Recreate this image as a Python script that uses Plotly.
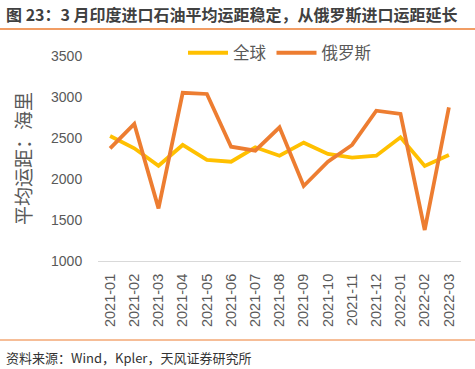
import plotly.graph_objects as go

months = ["2021-01", "2021-02", "2021-03", "2021-04", "2021-05", "2021-06", "2021-07",
          "2021-08", "2021-09", "2021-10", "2021-11", "2021-12", "2022-01", "2022-02", "2022-03"]
global_avg = [2524, 2374, 2162, 2415, 2232, 2211, 2387, 2284, 2443, 2305, 2260, 2284, 2508, 2159, 2293]
russia = [2374, 2671, 1642, 3052, 3037, 2394, 2345, 2630, 1915, 2211, 2415, 2833, 2793, 1378, 2874]

FONT = "Liberation Sans, Arial, Noto Sans CJK SC, sans-serif"
GRAY = "#595959"

fig = go.Figure()
fig.add_trace(go.Scatter(x=months, y=global_avg, mode="lines", name="全球",
                         line=dict(color="#FFC000", width=3.8)))
fig.add_trace(go.Scatter(x=months, y=russia, mode="lines", name="俄罗斯",
                         line=dict(color="#ED7D31", width=3.8)))

L, R, T, B = 98, 14, 56, 108
W, H = 475, 369
pw, ph = W - L - R, H - T - B

def px(x):
    return (x - L) / pw

def py(y):
    return (H - B - y) / ph

fig.update_layout(
    width=W, height=H,
    margin=dict(l=L, r=R, t=T, b=B, autoexpand=False),
    paper_bgcolor="white", plot_bgcolor="white",
    font=dict(family=FONT, color=GRAY, size=13),
    showlegend=True,
    legend=dict(orientation="h", x=0.5, xanchor="center", y=py(53), yanchor="middle",
                font=dict(size=16.5, color=GRAY), itemwidth=40, tracegroupgap=0,
                bgcolor="rgba(0,0,0,0)"),
    xaxis=dict(type="category", range=[-0.5, 14.5], tickangle=-90,
               showline=True, linecolor="#D9D9D9", linewidth=1, showgrid=False,
               ticks="outside", ticklen=6, tickcolor="rgba(0,0,0,0)",
               tickfont=dict(size=14.5, color=GRAY), fixedrange=True),
    yaxis=dict(range=[1000, 3500], dtick=500, showgrid=False, zeroline=False,
               showline=False, ticks="outside", ticklen=12, tickcolor="rgba(0,0,0,0)",
               tickfont=dict(size=14, color=GRAY),
               title=dict(text="平均运距：海里", font=dict(size=19, color=GRAY), standoff=14)),
    annotations=[
        dict(text="<b>图 23：3 月印度进口石油平均运距稳定，从俄罗斯进口运距延长</b>",
             xref="paper", yref="paper", x=px(4), y=py(14), xanchor="left", yanchor="middle",
             showarrow=False, font=dict(size=16, color="#404040", family="Noto Sans CJK SC, sans-serif")),
        dict(text="资料来源：Wind，Kpler，天风证券研究所",
             xref="paper", yref="paper", x=px(4), y=py(357), xanchor="left", yanchor="middle",
             showarrow=False, font=dict(size=13, color="#333333", family="Noto Sans CJK SC, sans-serif")),
    ],
    shapes=[
        dict(type="line", xref="paper", yref="paper", x0=px(0), x1=px(W), y0=py(29), y1=py(29),
             line=dict(color="#ED7D31", width=1.5)),
        dict(type="line", xref="paper", yref="paper", x0=px(0), x1=px(W), y0=py(340), y1=py(340),
             line=dict(color="#ED7D31", width=1)),
    ],
)

fig.write_html("out.html", config={"displayModeBar": False},
               post_script="document.body.style.margin='0';document.body.style.overflow='hidden';")
